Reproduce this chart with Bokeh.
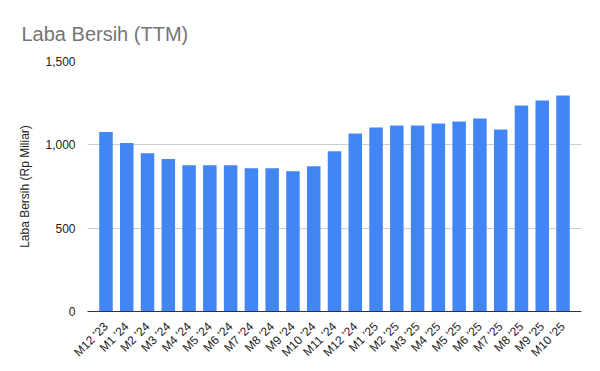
from math import pi
from bokeh.plotting import figure
from bokeh.models import FactorRange, Range1d, FixedTicker, NumeralTickFormatter
from bokeh.embed import file_html
from bokeh.resources import INLINE

periods = ["M12 '23", "M1 '24", "M2 '24", "M3 '24", "M4 '24", "M5 '24", "M6 '24",
           "M7 '24", "M8 '24", "M9 '24", "M10 '24", "M11 '24", "M12 '24",
           "M1 '25", "M2 '25", "M3 '25", "M4 '25", "M5 '25", "M6 '25",
           "M7 '25", "M8 '25", "M9 '25", "M10 '25"]
laba_bersih = [1077, 1011, 950, 915, 878, 878, 878, 860, 860, 842, 872, 962, 1068,
               1104, 1116, 1116, 1128, 1140, 1158, 1092, 1236, 1266, 1296]
y_ticks = [0, 500, 1000, 1500]

FONT = "Liberation Sans"
W, H = 600, 371

p = figure(width=W, height=H, output_backend="svg", toolbar_location=None,
           x_range=FactorRange(factors=periods, range_padding=0.39, range_padding_units="absolute"),
           y_range=Range1d(0, 1500),
           min_border_left=87, min_border_right=19, min_border_top=61, min_border_bottom=60)
p.outline_line_color = None
p.background_fill_color = "white"
p.border_fill_color = "white"

p.vbar(x=periods, top=laba_bersih, width=0.65, color="#4285F4", line_color=None)

# Title
p.title.text = "Laba Bersih (TTM)"
p.title.align = "left"
p.title.offset = -66
p.title.standoff = 33
p.title.text_font = FONT
p.title.text_font_size = "20px"
p.title.text_font_style = "normal"
p.title.text_color = "#757575"

# Y axis
p.yaxis.ticker = FixedTicker(ticks=y_ticks)
p.yaxis.formatter = NumeralTickFormatter(format="0,0")
p.yaxis.axis_line_color = None
p.yaxis.major_tick_line_color = None
p.yaxis.minor_tick_line_color = None
p.yaxis.major_label_text_font = FONT
p.yaxis.major_label_text_font_size = "12px"
p.yaxis.major_label_text_color = "#222222"
p.yaxis.major_label_standoff = 6
p.yaxis.axis_label = "Laba Bersih (Rp Miliar)"
p.yaxis.axis_label_text_font = FONT
p.yaxis.axis_label_text_font_size = "12px"
p.yaxis.axis_label_text_font_style = "normal"
p.yaxis.axis_label_text_color = "#222222"
p.yaxis.axis_label_standoff = 10

p.ygrid.grid_line_color = "#cccccc"
p.xgrid.grid_line_color = None

# X axis
p.xaxis.axis_line_color = "#333333"
p.xaxis.axis_line_width = 1
p.xaxis.major_tick_line_color = None
p.xaxis.minor_tick_line_color = None
p.xaxis.major_label_orientation = pi / 4
p.xaxis.major_label_text_font = FONT
p.xaxis.major_label_text_font_size = "12px"
p.xaxis.major_label_text_color = "#222222"
p.xaxis.major_label_standoff = 7

open("out.html", "w").write(file_html(p, INLINE))
